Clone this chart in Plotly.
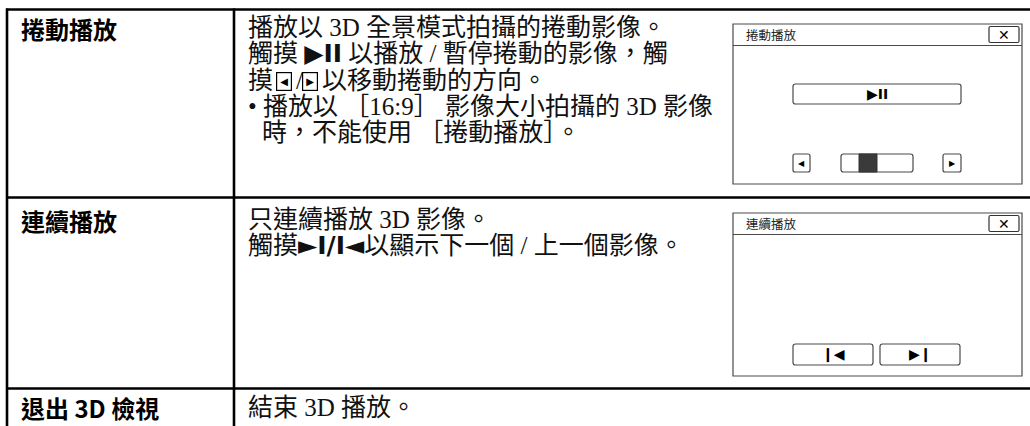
import plotly.graph_objects as go

# ---------------- content ----------------
row_labels = ["捲動播放", "連續播放", "退出 3D 檢視"]

SANS_ICON = "<span style='font-family:DejaVu Sans;font-weight:bold'>%s</span>"

row1_lines = [
    "播放以 3D 全景模式拍攝的捲動影像。",
    "觸摸 " + SANS_ICON % "▶II" + " 以播放 / 暫停捲動的影像，觸",
    None,  # line with boxed arrows, built below
    "• 播放以 ［16:9］ 影像大小拍攝的 3D 影像",
    "時，不能使用 ［捲動播放］。",
]
row1_line3_parts = ["摸", "◀", "/", "▶", "以移動捲動的方向。"]
row2_lines = [
    "只連續播放 3D 影像。",
    "觸摸" + SANS_ICON % "►I/I◄" + "以顯示下一個 / 上一個影像。",
]
row3_lines = ["結束 3D 播放。"]

screen_titles = ["捲動播放", "連續播放"]
close_glyph = "✕"
play_pause_glyph = "▶II"
scroll_glyphs = ["◀", "▶"]
prev_next_glyphs = ["❙◀", "▶❙"]

# ---------------- layout constants ----------------
W, H = 1030, 426
LABEL_FONT = dict(family="Noto Sans CJK TC", size=24, color="#000")
DESC_FONT = dict(family="Liberation Serif, Noto Sans CJK TC", size=25, color="#111")
UI_FONT = dict(family="Noto Sans CJK TC", size=12.5, color="#222")
TABLE_LINE = dict(color="#000", width=2.6)
UI_LINE = dict(color="#4a4a4a", width=1.2)

fig = go.Figure()
shapes = []
ann = []

def line(x0, y0, x1, y1, style):
    shapes.append(dict(type="line", xref="x", yref="y", x0=x0, y0=y0, x1=x1, y1=y1, line=style))

def rect(x0, y0, x1, y1, style, fill="rgba(0,0,0,0)"):
    shapes.append(dict(type="rect", xref="x", yref="y", x0=x0, y0=y0, x1=x1, y1=y1,
                       line=style, fillcolor=fill))

def rrect(x0, y0, x1, y1, r, style, fill="rgba(0,0,0,0)"):
    p = (f"M {x0+r},{y0} H {x1-r} Q {x1},{y0} {x1},{y0+r} V {y1-r} Q {x1},{y1} {x1-r},{y1} "
         f"H {x0+r} Q {x0},{y1} {x0},{y1-r} V {y0+r} Q {x0},{y0} {x0+r},{y0} Z")
    shapes.append(dict(type="path", xref="x", yref="y", path=p, line=style, fillcolor=fill))

def text(x, y, s, font, xanchor="left", **kw):
    ann.append(dict(x=x, y=y, xref="x", yref="y", text=s, showarrow=False,
                    xanchor=xanchor, yanchor="middle", font=font, **kw))

# table grid
col_x = 234
row_y = [9.5, 197.5, 388.5]
for y in row_y:
    line(6, y, W, y, TABLE_LINE)
line(7, 8.5, 7, H, TABLE_LINE)
line(col_x, 8.5, col_x, H, TABLE_LINE)

# labels
label_y = [28, 220, 407]
for lab, y in zip(row_labels, label_y):
    text(19, y, "<b>%s</b>" % lab, LABEL_FONT)

# descriptions
desc_x = 246
pitch = 26.3
for i, s in enumerate(row1_lines):
    y = 27.5 + i * pitch
    if s is None:
        continue
    if i == 4:
        text(desc_x + 14, y, s, DESC_FONT)
    else:
        text(desc_x, y, s, DESC_FONT)
# line 3 of row 1 with boxed arrows
y3 = 27.5 + 2 * pitch
text(desc_x, y3, row1_line3_parts[0], DESC_FONT)
box_font = dict(family="DejaVu Sans", size=10, color="#000")
text(desc_x + 30, y3 + 1, row1_line3_parts[1], box_font, bordercolor="#000", borderwidth=1.2, borderpad=3)
text(desc_x + 48, y3, row1_line3_parts[2], DESC_FONT)
text(desc_x + 56, y3 + 1, row1_line3_parts[3], box_font, bordercolor="#000", borderwidth=1.2, borderpad=3)
text(desc_x + 74, y3, row1_line3_parts[4], DESC_FONT)

for i, s in enumerate(row2_lines):
    text(desc_x, 219 + i * pitch, s, DESC_FONT)
for i, s in enumerate(row3_lines):
    text(desc_x, 407 + i * pitch, s, DESC_FONT)

# ---------------- screen mock-ups ----------------
def screen(top, bottom, title):
    rect(733, top, 1022, bottom, UI_LINE)
    sep = top + 21.5
    line(733, sep, 1022, sep, UI_LINE)
    text(744, top + 10.5, title, UI_FONT)
    rrect(989, top + 2.5, 1019, top + 18.5, 1.5, dict(color="#333", width=1.2))
    text(1004, top + 10.5, "<b>%s</b>" % close_glyph,
         dict(family="DejaVu Sans", size=14, color="#000"), xanchor="center")

screen(24, 184, screen_titles[0])
screen(213, 376, screen_titles[1])

icon_font = dict(family="DejaVu Sans", size=14, color="#000")
small_icon = dict(family="DejaVu Sans", size=8, color="#000")

# screen 1 controls
rrect(793, 84, 961, 104, 2.5, UI_LINE)
text(877, 94, "<b>%s</b>" % play_pause_glyph, icon_font, xanchor="center")
rrect(793, 154, 810, 172, 2, UI_LINE)
text(801.5, 163, scroll_glyphs[0], small_icon, xanchor="center")
rrect(841, 154, 913, 172, 2.5, UI_LINE)
rect(859, 154, 877, 172, dict(color="#333", width=1), fill="#3a3a3a")
rrect(943, 154, 961, 172, 2, UI_LINE)
text(952, 163, scroll_glyphs[1], small_icon, xanchor="center")

# screen 2 controls
rrect(793, 344, 873, 365, 2.5, UI_LINE)
text(833, 354.5, "<b>%s</b>" % prev_next_glyphs[0], icon_font, xanchor="center")
rrect(880, 344, 960, 365, 2.5, UI_LINE)
text(920, 354.5, "<b>%s</b>" % prev_next_glyphs[1], icon_font, xanchor="center")

fig.update_layout(
    width=W, height=H, margin=dict(l=0, r=0, t=0, b=0),
    paper_bgcolor="white", plot_bgcolor="white",
    xaxis=dict(range=[0, W], visible=False, fixedrange=True),
    yaxis=dict(range=[H, 0], visible=False, fixedrange=True),
    shapes=shapes, annotations=ann, showlegend=False,
)

fig.write_html("out.html", config={"displayModeBar": False},
               post_script="document.body.style.margin='0';")
